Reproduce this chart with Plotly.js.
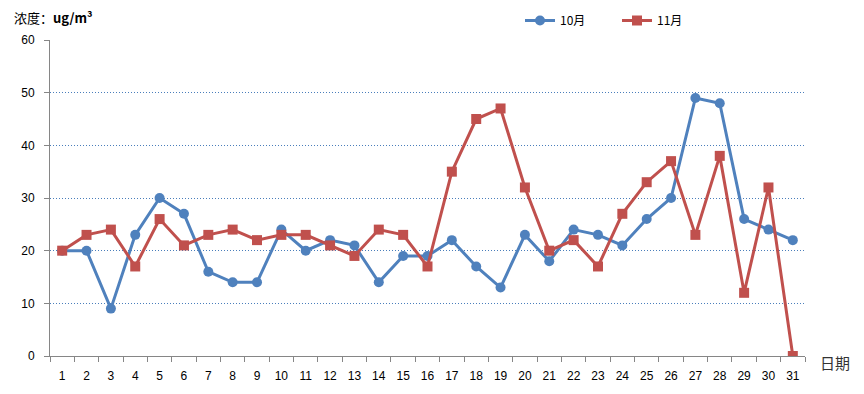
<!DOCTYPE html>
<html><head><meta charset="utf-8">
<script src="https://cdn.plot.ly/plotly-3.0.1.min.js"></script>
<style>html,body{margin:0;padding:0;background:#fff}#c{width:864px;height:394px}</style>
</head><body><div id="c"></div>
<script>
const days = ["1","2","3","4","5","6","7","8","9","10","11","12","13","14","15","16","17","18","19","20","21","22","23","24","25","26","27","28","29","30","31"];
const oct = [20,20,9,23,30,27,16,14,14,24,20,22,21,14,19,19,22,17,13,23,18,24,23,21,26,30,49,48,26,24,22];
const nov = [20,23,24,17,26,21,23,24,22,23,23,21,19,24,23,17,35,45,47,32,20,22,17,27,33,37,23,38,12,32,0];
const seriesNames = ["10月","11月"];
const yTicks = [0,10,20,30,40,50,60];

const traces = [
  {x: days, y: oct, name: seriesNames[0], type:'scatter', mode:'lines+markers',
   line:{color:'#4F81BD', width:3}, marker:{symbol:'circle', size:10, color:'#4F81BD'}},
  {x: days, y: nov, name: seriesNames[1], type:'scatter', mode:'lines+markers',
   line:{color:'#C0504D', width:3}, marker:{symbol:'square', size:10, color:'#C0504D'}}
];
const layout = {
  width:864, height:394,
  margin:{l:50, r:59, t:40, b:38, autoexpand:false},
  paper_bgcolor:'#fff', plot_bgcolor:'#fff',
  font:{family:'"Liberation Sans", Arial, sans-serif', size:12, color:'#000'},
  showlegend:true,
  legend:{orientation:'h', xref:'container', yref:'container', x:520/864, xanchor:'left', y:1-6/394, yanchor:'top',
    font:{size:12, family:'"Noto Sans CJK SC", sans-serif'}, itemwidth:30, entrywidth:52, entrywidthmode:'pixels',
    bgcolor:'rgba(0,0,0,0)'},
  xaxis:{type:'category', tickson:'boundaries', ticks:'outside', ticklen:5, tickcolor:'#868686',
    showline:true, linecolor:'#868686', linewidth:1, showgrid:false, zeroline:false,
    tickfont:{size:12}, ticklabelstandoff:9, range:[-0.5, 30.5], automargin:false},
  yaxis:{range:[0,60], tickvals:yTicks, ticks:'outside', ticklen:5, tickcolor:'#868686',
    showline:true, linecolor:'#868686', linewidth:1,
    showgrid:true, gridcolor:'#4A7EBB', griddash:'1px,2px', gridwidth:1, zeroline:false,
    tickfont:{size:12}, ticklabelstandoff:7, automargin:false},
  annotations:[
    {text:'浓度：<b>ug/m³</b>', xref:'paper', yref:'paper', x:(12-50)/755, y:1+(40-17)/316, xanchor:'left', yanchor:'middle',
     showarrow:false, font:{size:13, family:'"Noto Sans CJK SC", sans-serif', color:'#000'}},
    {text:'日期', xref:'paper', yref:'paper', x:1+(818-805)/755, y:-(362-356)/316, xanchor:'left', yanchor:'middle',
     showarrow:false, font:{size:15, family:'"Noto Sans CJK SC", sans-serif', color:'#333'}}
  ]
};
Plotly.newPlot('c', traces, layout, {displayModeBar:false, staticPlot:true});
</script></body></html>
